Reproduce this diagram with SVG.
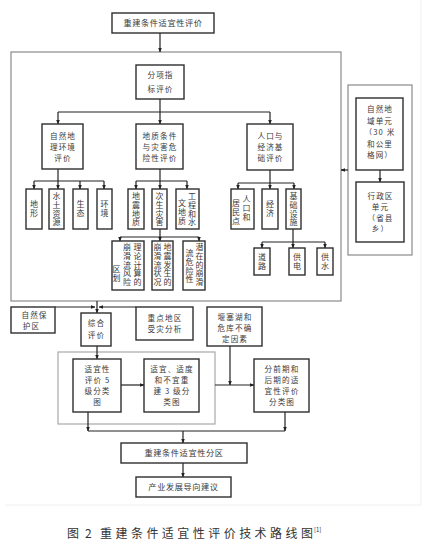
<svg xmlns="http://www.w3.org/2000/svg" width="433" height="553" viewBox="0 0 433 553">
<style>
.bg{fill:#ffffff}
.frame{fill:none;stroke:#f0f0f0;stroke-width:1}
.grp{fill:none;stroke:#8a8a8a;stroke-width:1.2}
.grp2{fill:none;stroke:#a8a8a8;stroke-width:1.2}
.box{fill:#ffffff;stroke:#2e2e2e;stroke-width:1.4}
.t{font-family:"Noto Sans CJK SC","Noto Sans CJK TC",sans-serif;font-size:7.6px;letter-spacing:1.1px;fill:#3a3a3a;text-anchor:middle}
.s{font-family:"Noto Sans CJK SC","Noto Sans CJK TC",sans-serif;font-size:8.2px;letter-spacing:0.6px;fill:#3a3a3a;text-anchor:middle}
.v{font-family:"Noto Sans CJK SC","Noto Sans CJK TC",sans-serif;font-size:8px;letter-spacing:0.8px;fill:#3a3a3a;writing-mode:tb}
.c{fill:none;stroke:#222;stroke-width:1.2}
.a{fill:none;stroke:#222;stroke-width:1.2;marker-end:url(#ah)}
.cap{font-family:"Noto Sans CJK SC","Noto Sans CJK TC",sans-serif;font-size:12px;fill:#333}
</style>
<defs>
<marker id="ah" viewBox="0 0 10 10" refX="9" refY="5" markerWidth="4.5" markerHeight="4.5" orient="auto" markerUnits="userSpaceOnUse">
<path d="M0,1 L10,5 L0,9 z" fill="#222"/>
</marker>
</defs>
<rect class="bg" x="0" y="0" width="433" height="553"/>
<path class="frame" d="M421,0 V505 H5"/>

<rect class="grp" x="11" y="52" width="330" height="249"/>
<rect class="grp" x="348" y="85" width="64" height="170"/>
<rect class="grp2" x="58" y="352" width="157" height="72"/>

<g id="connectors">
<line class="a" x1="160" y1="33" x2="160" y2="52"/>
<line class="c" x1="160" y1="99" x2="160" y2="112"/>
<line class="c" x1="58" y1="112" x2="270" y2="112"/>
<line class="a" x1="58" y1="112" x2="58" y2="124"/>
<line class="a" x1="160" y1="112" x2="160" y2="124"/>
<line class="a" x1="270" y1="112" x2="270" y2="124"/>

<line class="c" x1="58" y1="169" x2="58" y2="181"/>
<line class="c" x1="34" y1="181" x2="104" y2="181"/>
<line class="a" x1="34" y1="181" x2="34" y2="189"/>
<line class="a" x1="58" y1="181" x2="58" y2="189"/>
<line class="a" x1="80" y1="181" x2="80" y2="189"/>
<line class="a" x1="104" y1="181" x2="104" y2="189"/>

<line class="c" x1="160" y1="169" x2="160" y2="181"/>
<line class="c" x1="136" y1="181" x2="187" y2="181"/>
<line class="a" x1="136" y1="181" x2="136" y2="189"/>
<line class="a" x1="160" y1="181" x2="160" y2="189"/>
<line class="a" x1="187" y1="181" x2="187" y2="189"/>

<line class="c" x1="160" y1="229" x2="160" y2="237"/>
<line class="c" x1="120" y1="237" x2="199" y2="237"/>
<line class="a" x1="120" y1="237" x2="120" y2="241"/>
<line class="a" x1="160" y1="237" x2="160" y2="241"/>
<line class="a" x1="199" y1="237" x2="199" y2="241"/>

<line class="c" x1="270" y1="170" x2="270" y2="183"/>
<line class="c" x1="238" y1="183" x2="294" y2="183"/>
<line class="a" x1="238" y1="183" x2="238" y2="189"/>
<line class="a" x1="270" y1="183" x2="270" y2="189"/>
<line class="a" x1="294" y1="183" x2="294" y2="189"/>

<line class="c" x1="293" y1="229" x2="293" y2="242"/>
<line class="c" x1="262" y1="242" x2="325" y2="242"/>
<line class="a" x1="262" y1="242" x2="262" y2="248"/>
<line class="a" x1="293" y1="242" x2="293" y2="248"/>
<line class="a" x1="325" y1="242" x2="325" y2="248"/>

<line class="a" x1="380" y1="170" x2="380" y2="182"/>
<line class="a" x1="348" y1="170" x2="341" y2="170"/>

<line class="a" x1="97" y1="301" x2="97" y2="313"/>
<line class="a" x1="55" y1="307" x2="95" y2="307"/>
<line class="a" x1="136" y1="307" x2="99" y2="307"/>
<line class="a" x1="97" y1="346" x2="97" y2="359"/>
<line class="a" x1="121" y1="385" x2="144" y2="385"/>
<line class="a" x1="215" y1="385" x2="254" y2="385"/>
<line class="a" x1="230" y1="346" x2="230" y2="385"/>

<line class="a" x1="88" y1="412" x2="88" y2="431"/>
<line class="a" x1="285" y1="412" x2="285" y2="431"/>
<line class="c" x1="88" y1="431" x2="285" y2="431"/>
<line class="a" x1="183" y1="431" x2="183" y2="443"/>
<line class="a" x1="183" y1="463" x2="183" y2="477"/>
</g>

<g id="n-top"><rect class="box" x="112" y="13" width="102" height="20"/><text class="s" x="163" y="26">重建条件适宜性评价</text></g>

<g id="n-fx"><rect class="box" x="136" y="65" width="48" height="34"/>
<text class="t"><tspan x="160.5" y="78">分项指</tspan><tspan x="160.5" y="92">标评价</tspan></text></g>

<g id="n-zr"><rect class="box" x="42" y="124" width="41" height="45"/>
<text class="t"><tspan x="63" y="139">自然地</tspan><tspan x="63" y="150">理环境</tspan><tspan x="63" y="161">评价</tspan></text></g>

<g id="n-dz"><rect class="box" x="136" y="124" width="47" height="45"/>
<text class="t"><tspan x="160" y="139">地质条件</tspan><tspan x="160" y="150">与灾害危</tspan><tspan x="160" y="161">险性评价</tspan></text></g>

<g id="n-rk"><rect class="box" x="247" y="124" width="46" height="46"/>
<text class="t"><tspan x="270.5" y="139">人口与</tspan><tspan x="270.5" y="150">经济基</tspan><tspan x="270.5" y="161">础评价</tspan></text></g>

<g id="n-dx"><rect class="box" x="26" y="189" width="16" height="40"/><text class="v" x="34" y="200">地形</text></g>
<g id="n-st"><rect class="box" x="49" y="189" width="15" height="40"/><text class="v" x="56.5" y="192">水土资源</text></g>
<g id="n-sz"><rect class="box" x="73" y="189" width="15" height="40"/><text class="v" x="80.5" y="200">生态</text></g>
<g id="n-hj"><rect class="box" x="97" y="189" width="15" height="40"/><text class="v" x="104.5" y="200">环境</text></g>

<g id="n-dzdz"><rect class="box" x="128" y="189" width="16" height="40"/><text class="v" x="136" y="192">地震地质</text></g>
<g id="n-cs"><rect class="box" x="152" y="189" width="15" height="40"/><text class="v" x="159.5" y="192">次生灾害</text></g>
<g id="n-gc"><rect class="box" x="176" y="189" width="23" height="40"/>
<text class="v" x="192" y="192">工程和水</text><text class="v" x="182" y="199">文地质</text></g>

<g id="n-ll"><rect class="box" x="112" y="241" width="32" height="49"/>
<text class="v" x="137.5" y="243">理论计算的</text><text class="v" x="127" y="243">崩滑流风险</text><text class="v" x="116.5" y="265">区划</text></g>
<g id="n-dzfs"><rect class="box" x="152" y="241" width="21" height="49"/>
<text class="v" x="167.5" y="243">地震发生的</text><text class="v" x="157.5" y="243">崩滑流状况</text></g>
<g id="n-qz"><rect class="box" x="183" y="241" width="22" height="49"/>
<text class="v" x="199.5" y="243">潜在的崩滑</text><text class="v" x="189.5" y="249">流危险性</text></g>

<g id="n-rkjm"><rect class="box" x="231" y="189" width="23" height="40"/>
<text class="v" x="246.5" y="195">人口和</text><text class="v" x="236" y="199">居民点</text></g>
<g id="n-jj"><rect class="box" x="262" y="189" width="16" height="40"/><text class="v" x="270" y="200">经济</text></g>
<g id="n-jc"><rect class="box" x="286" y="189" width="15" height="40"/><text class="v" x="293.5" y="192">基础设施</text></g>

<g id="n-dl"><rect class="box" x="254" y="248" width="16" height="27"/><text class="v" x="262" y="253">道路</text></g>
<g id="n-gd"><rect class="box" x="289" y="248" width="16" height="27"/><text class="v" x="297" y="253">供电</text></g>
<g id="n-gs"><rect class="box" x="317" y="248" width="16" height="27"/><text class="v" x="325" y="253">供水</text></g>

<g id="n-zrdy"><rect class="box" x="356" y="98" width="47" height="72"/>
<text class="t"><tspan x="380" y="112">自然地</tspan><tspan x="380" y="123.5">域单元</tspan><tspan x="380" y="135">（30 米</tspan><tspan x="380" y="146.5">和公里</tspan><tspan x="380" y="158">格网）</tspan></text></g>
<g id="n-xz"><rect class="box" x="356" y="182" width="48" height="60"/>
<text class="t"><tspan x="380.5" y="199">行政区</tspan><tspan x="380.5" y="210">单元</tspan><tspan x="380.5" y="221">（省县</tspan><tspan x="380.5" y="232">乡）</tspan></text></g>

<g id="n-bh"><rect class="box" x="11" y="307" width="44" height="26"/>
<text class="t"><tspan x="34.5" y="317.5">自然保</tspan><tspan x="31.5" y="328.5">护区</tspan></text></g>
<g id="n-zh"><rect class="box" x="81" y="313" width="30" height="33"/>
<text class="t"><tspan x="96.5" y="326">综合</tspan><tspan x="96.5" y="338">评价</tspan></text></g>
<g id="n-zd"><rect class="box" x="136" y="307" width="57" height="33"/>
<text class="t"><tspan x="165" y="321">重点地区</tspan><tspan x="165" y="332">受灾分析</tspan></text></g>
<g id="n-ys"><rect class="box" x="207" y="307" width="55" height="39"/>
<text class="t"><tspan x="235" y="319.5">堰塞湖和</tspan><tspan x="235" y="330.5">危库不确</tspan><tspan x="235" y="341.5">定因素</tspan></text></g>

<g id="n-5j"><rect class="box" x="73" y="359" width="48" height="53"/>
<text class="t"><tspan x="97.5" y="372">适宜性</tspan><tspan x="97.5" y="383">评价 5</tspan><tspan x="97.5" y="394">级分类</tspan><tspan x="97.5" y="405">图</tspan></text></g>
<g id="n-3j"><rect class="box" x="144" y="359" width="55" height="53"/>
<text class="t"><tspan x="172" y="372">适宜、适度</tspan><tspan x="172" y="383">和不宜重</tspan><tspan x="172" y="394">建 3 级分</tspan><tspan x="172" y="405">类图</tspan></text></g>
<g id="n-fq"><rect class="box" x="254" y="359" width="55" height="53"/>
<text class="t"><tspan x="282" y="372">分前期和</tspan><tspan x="282" y="383">后期的适</tspan><tspan x="282" y="394">宜性评价</tspan><tspan x="282" y="405">分类图</tspan></text></g>

<g id="n-fq2"><rect class="box" x="121" y="443" width="126" height="20"/><text class="s" x="184" y="456">重建条件适宜性分区</text></g>
<g id="n-cy"><rect class="box" x="136" y="477" width="95" height="20"/><text class="s" x="183.5" y="490">产业发展导向建议</text></g>

<text class="cap" x="67" y="538">图</text>
<text class="cap" x="85" y="538">2</text>
<text class="cap" x="100" y="538" textLength="213" lengthAdjust="spacing">重建条件适宜性评价技术路线图</text>
<text class="cap" x="314" y="532" style="font-size:6px">[1]</text>
</svg>
